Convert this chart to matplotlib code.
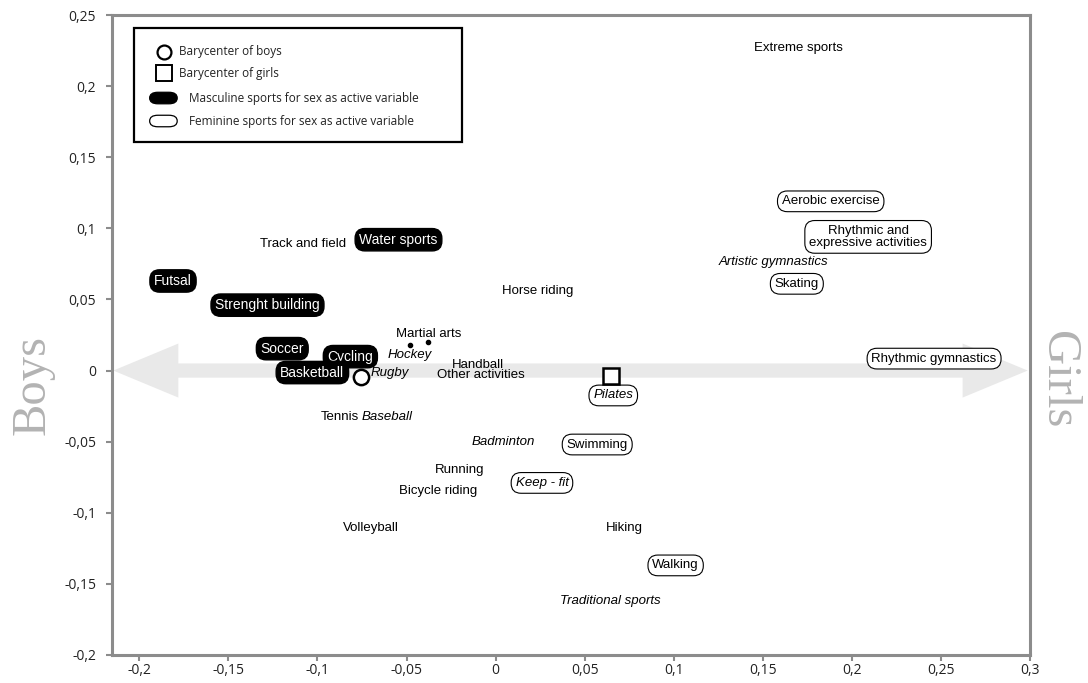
import numpy as np
import matplotlib
matplotlib.use("Agg")
import matplotlib.pyplot as plt
from matplotlib.patches import Polygon, Rectangle, FancyBboxPatch
from matplotlib.ticker import FuncFormatter, MultipleLocator

# sports: label, coordinates on the two factorial axes, kind and style
# kind: m = masculine sport (black box), f = feminine sport (white box), p = plain
sports = ["Extreme sports", "Aerobic exercise", "Rhythmic and\nexpressive activities",
          "Artistic gymnastics", "Skating", "Rhythmic gymnastics", "Track and field",
          "Water sports", "Futsal", "Strenght building", "Horse riding", "Martial arts",
          "Hockey", "Soccer", "Cycling", "Basketball", "Rugby", "Handball",
          "Other activities", "Pilates", "Tennis", "Baseball", "Badminton", "Swimming",
          "Running", "Keep - fit", "Bicycle riding", "Volleyball", "Hiking", "Walking",
          "Traditional sports"]
sx = [0.170, 0.188, 0.209, 0.156, 0.169, 0.246, -0.108, -0.0545, -0.181, -0.128,
      0.0236, -0.0376, -0.048, -0.1197, -0.0815, -0.1028, -0.0596, -0.010, -0.008, 0.066,
      -0.0875, -0.0607, 0.0045, 0.057, -0.020, 0.026, -0.032, -0.070, 0.072, 0.101,
      0.0646]
sy = [0.227, 0.119, 0.094, 0.076, 0.061, 0.0084, 0.089, 0.092, 0.063, 0.046,
      0.056, 0.026, 0.011, 0.0154, 0.0098, -0.0014, -0.002, 0.004, -0.003, -0.0175,
      -0.033, -0.033, -0.050, -0.052, -0.070, -0.079, -0.085, -0.111, -0.111, -0.137,
      -0.162]
kind = ["p", "f", "f", "p", "f", "f", "p", "m", "m", "m", "p", "p", "p", "m", "m", "m",
        "p", "p", "p", "f", "p", "p", "p", "f", "p", "f", "p", "p", "p", "f", "p"]
italic = ["Artistic gymnastics", "Hockey", "Rugby", "Pilates", "Baseball", "Badminton",
          "Keep - fit", "Traditional sports"]

# small point markers (hockey, martial arts)
dot_x = [-0.0483, -0.038]
dot_y = [0.018, 0.020]

# barycenters
boys_xy = (-0.0758, -0.0042)
girls_xy = (0.065, -0.0035)

xlim = (-0.2155, 0.3)
ylim = (-0.2, 0.25)

grey = "#8c8c8c"
fig = plt.figure(figsize=(10.88, 6.83), dpi=100)
ax = fig.add_axes([0.1025, 0.041, 0.8445, 0.937])
ax.set_xlim(*xlim)
ax.set_ylim(*ylim)

for s in ax.spines.values():
    s.set_color(grey)
    s.set_linewidth(2.2)


def comma(v, pos):
    if abs(v) < 1e-9:
        return "0"
    return ("%.2f" % round(v, 2)).rstrip("0").rstrip(".").replace(".", ",")


ax.xaxis.set_major_locator(MultipleLocator(0.05))
ax.yaxis.set_major_locator(MultipleLocator(0.05))
ax.xaxis.set_major_formatter(FuncFormatter(comma))
ax.yaxis.set_major_formatter(FuncFormatter(comma))
ax.tick_params(direction="out", length=4, width=1.5, color=grey, labelsize=10,
               labelcolor="#222222")
ax.tick_params(axis="y", pad=7)
ax.tick_params(axis="x", pad=2)
for lab in ax.get_xticklabels() + ax.get_yticklabels():
    lab.set_family("Open Sans")

# big double arrow along y = 0
x0, x1 = xlim[0] + 0.001, xlim[1] - 0.0015
hl, hw, sw = 0.0365, 0.019, 0.005
arrow = Polygon([(x0, 0), (x0 + hl, hw), (x0 + hl, sw), (x1 - hl, sw), (x1 - hl, hw),
                 (x1, 0), (x1 - hl, -hw), (x1 - hl, -sw), (x0 + hl, -sw), (x0 + hl, -hw)],
                closed=True, facecolor="#e9e9e9", edgecolor="none", zorder=0)
ax.add_patch(arrow)

# sport labels
for name, x, y, k in zip(sports, sx, sy, kind):
    style = "italic" if name in italic else "normal"
    if k == "m":
        bbox = dict(boxstyle="round,pad=0.3,rounding_size=0.7", fc="black", ec="black")
        col = "white"
        size = 10
    elif k == "f":
        bbox = dict(boxstyle="round,pad=0.33,rounding_size=0.75", fc="white", ec="black", lw=0.8)
        col = "black"
        size = 9.5
    else:
        bbox = None
        col = "black"
        size = 9.5
    ax.text(x, y, name, ha="center", va="center", fontsize=size, color=col,
            family="Liberation Sans", style=style, bbox=bbox, zorder=3,
            linespacing=1.0)

ax.plot(dot_x, dot_y, "o", color="black", ms=3, zorder=3)
ax.plot(*boys_xy, "o", mfc="white", mec="black", mew=1.8, ms=11, zorder=4)
ax.plot(*girls_xy, "s", mfc="white", mec="black", mew=1.8, ms=12, zorder=4)

# Boys / Girls
fig.text(0.030, 0.436, "Boys", rotation=90, ha="center", va="center", fontsize=35,
         family="Liberation Serif", color="#b3b3b3")
fig.text(0.972, 0.444, "Girls", rotation=270, ha="center", va="center", fontsize=35,
         family="Liberation Serif", color="#b3b3b3")

# legend box drawn in axes coordinates
tr = ax.transAxes
ax.add_patch(Rectangle((0.0245, 0.8016), 0.357, 0.1784, transform=tr, fc="white",
                       ec="black", lw=1.6, zorder=5))
leg_y = [0.9425, 0.9094, 0.8703, 0.8344]
ax.plot(0.0570, leg_y[0], "o", transform=tr, mfc="white", mec="black", mew=1.6, ms=10, zorder=6)
ax.plot(0.0570, leg_y[1], "s", transform=tr, mfc="white", mec="black", mew=1.4, ms=11, zorder=6)
for y, fc in [(leg_y[2], "black"), (leg_y[3], "white")]:
    ax.add_patch(FancyBboxPatch((0.0415, y - 0.009), 0.030, 0.018, transform=tr,
                                boxstyle="round,pad=0,rounding_size=0.009",
                                mutation_aspect=1, fc=fc, ec="black", lw=0.9, zorder=6))
leg_text = ["Barycenter of boys", "Barycenter of girls",
            "Masculine sports for sex as active variable",
            "Feminine sports for sex as active variable"]
leg_tx = [0.0735, 0.0735, 0.0843, 0.0843]
for t, x, y in zip(leg_text, leg_tx, leg_y):
    ax.text(x, y, t, transform=tr, ha="left", va="center", fontsize=8.5,
            family="Open Sans", color="#222222", zorder=6)

fig.savefig("out.png", dpi=100)
